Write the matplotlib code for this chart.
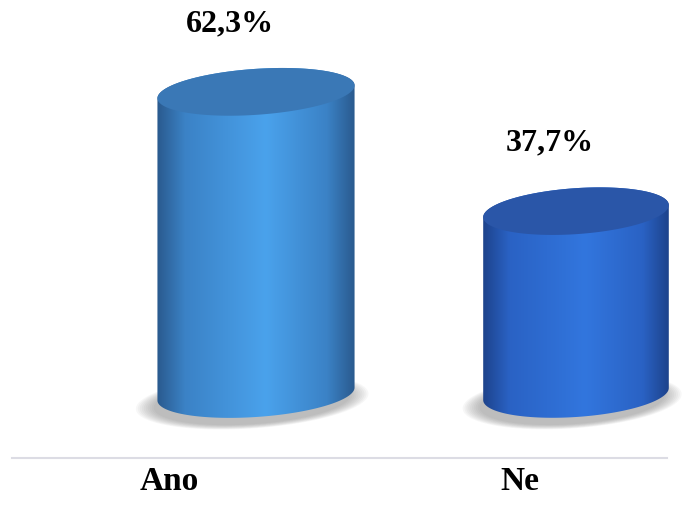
import numpy as np
import matplotlib.pyplot as plt
from matplotlib.patches import Polygon
from matplotlib.colors import LinearSegmentedColormap

categories = ['Ano', 'Ne']
values = [62.3, 37.7]
value_labels = ['62,3%', '37,7%']

# look of each cylinder: edge colour, middle colour, highlight colour, top face colour
body_edge = ['#2a5a8e', '#1d438c']
body_mid = ['#3b82c6', '#2a62c4']
body_light = ['#4aa2ec', '#3276de']
top_color = ['#3a78b6', '#2a56a8']

W, H = 684, 511
fig = plt.figure(figsize=(W / 100, H / 100), dpi=100)
ax = fig.add_axes([0, 0, 1, 1])

# map data -> pixels: category spacing 320 px, 4.85 px per percent
px_x = 320.0
px_y = 4.85
x0_px, base_px = 256, 394
ax.set_xlim(-x0_px / px_x, (W - x0_px) / px_x)
ax.set_ylim(-(H - base_px) / px_y, base_px / px_y)
ax.axis('off')

half_w = [0.308, 0.29]
ell_h = 23 / px_y          # half height of ellipse in %
shear = 4.3                # tilt of the ellipses (% per x unit)


def ellipse_pts(cx, cy, a, t):
    x = cx + a * np.cos(t)
    y = cy + ell_h * np.sin(t) + shear * (x - cx)
    return x, y


for i, v in enumerate(values):
    a = half_w[i]
    # shadow under the base
    for k in range(10):
        s = 1.0 + 0.02 * k
        t = np.linspace(0, 2 * np.pi, 100)
        xs = i - 0.012 + a * s * np.cos(t)
        ys = -1.5 + ell_h * s * np.sin(t) + shear * (xs - i + 0.012)
        ax.fill(xs, ys, color='#777777', alpha=0.06, lw=0, zorder=1)

    # body: bottom front arc, right side, top back arc, left side
    tb = np.linspace(np.pi, 2 * np.pi, 100)
    bx, by = ellipse_pts(i, 0, a, tb)
    tt = np.linspace(0, np.pi, 100)
    tx, ty = ellipse_pts(i, v, a, tt)
    poly = Polygon(np.column_stack([np.r_[bx, tx], np.r_[by, ty]]),
                   closed=True, fc='none', ec='none')
    ax.add_patch(poly)
    cmap = LinearSegmentedColormap.from_list(
        'c%d' % i, [(0, body_edge[i]), (0.14, body_mid[i]), (0.55, body_light[i]),
                    (0.86, body_mid[i]), (1, body_edge[i])])
    grad = np.linspace(0, 1, 512)
    im = ax.imshow(grad[None, :], cmap=cmap, aspect='auto',
                   extent=[i - a, i + a, -10, v + 10], zorder=2,
                   interpolation='bilinear')
    im.set_clip_path(poly)

    # top face
    t = np.linspace(0, 2 * np.pi, 200)
    ex, ey = ellipse_pts(i, v, a, t)
    ax.fill(ex, ey, color=top_color[i], lw=0, zorder=3)

    ax.annotate(value_labels[i], (i, v), xytext=(-19, 49),
                textcoords='offset points', ha='center', va='center',
                fontsize=23, fontweight='bold', family='Liberation Serif')

label_dx = [-0.27, -0.175]
for i, c in enumerate(categories):
    ax.text(i + label_dx[i], -18.1, c, ha='center', va='center',
            fontsize=24, fontweight='bold', family='Liberation Serif')

ax.plot([(12 - x0_px) / px_x, (667 - x0_px) / px_x], [-13.2, -13.2],
        color='#dcdce4', lw=1.5, zorder=0)

fig.savefig('out.png', dpi=100)
